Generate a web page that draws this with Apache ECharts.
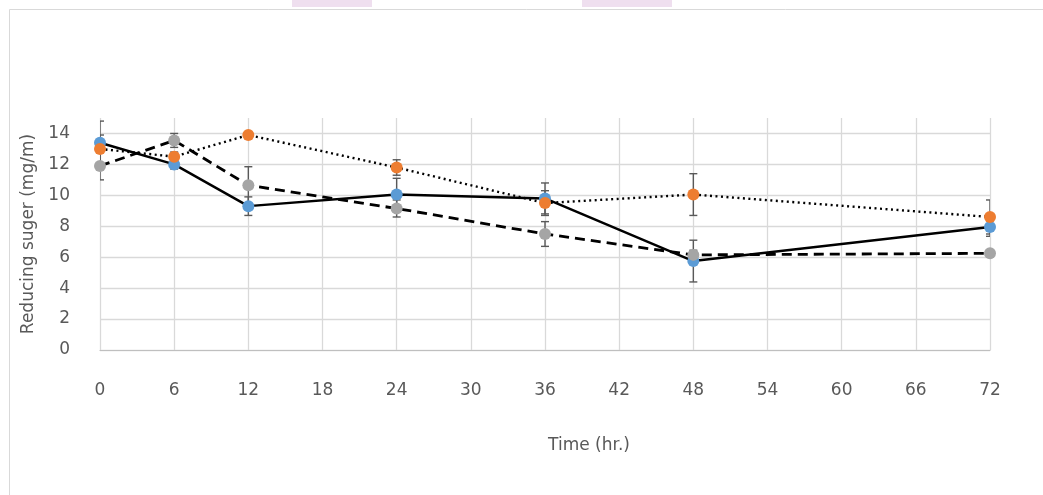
<!DOCTYPE html>
<html>
<head>
<meta charset="utf-8">
<script src="https://cdn.jsdelivr.net/npm/echarts@6/dist/echarts.min.js"></script>
<style>
  html, body { margin: 0; padding: 0; background: #fff; }
  #chart { width: 1043px; height: 495px; }
</style>
</head>
<body>
<div id="chart"></div>
<script>
// Sampling times (hr.)
const hours = [0, 6, 12, 24, 36, 48, 72];

// Reducing sugar means and their error bars, one pair per treatment
const sugarA = [13.4, 12.0, 9.3, 10.05, 9.8, 5.75, 7.95];
const sugarAErr = [1.4, 0.3, 0.6, 1.05, 1.0, 1.35, 0.6];
const sugarB = [13.0, 12.5, 13.9, 11.8, 9.5, 10.05, 8.6];
const sugarBErr = [0.9, 0.3, 0.1, 0.5, 0.8, 1.35, 1.1];
const sugarC = [11.9, 13.55, 10.65, 9.15, 7.5, 6.15, 6.25];
const sugarCErr = [0.9, 0.45, 1.2, 0.55, 0.8, 0.3, 0.2];

const FONT = '"DejaVu Sans", sans-serif';
const TEXT = '#595959';
const GRID = '#d9d9d9';

function pairs(vals) { return hours.map((h, i) => [h, vals[i]]); }
function triples(vals, errs) { return hours.map((h, i) => [h, vals[i], errs[i]]); }

// Vertical error bar with caps at each point
function errorBar(params, api) {
  const x = api.value(0), y = api.value(1), e = api.value(2);
  const top = api.coord([x, y + e]);
  const bot = api.coord([x, y - e]);
  const half = 4;
  const style = { stroke: '#595959', lineWidth: 1.4 };
  return {
    type: 'group',
    children: [
      { type: 'line', shape: { x1: top[0], y1: top[1], x2: bot[0], y2: bot[1] }, style },
      { type: 'line', shape: { x1: top[0] - half, y1: top[1], x2: top[0] + half, y2: top[1] }, style },
      { type: 'line', shape: { x1: bot[0] - half, y1: bot[1], x2: bot[0] + half, y2: bot[1] }, style }
    ]
  };
}

function errSeries(vals, errs) {
  return {
    type: 'custom', renderItem: errorBar, clip: true, z: 2, silent: true,
    encode: { x: 0, y: [1] },
    data: triples(vals, errs)
  };
}

function lineSeries(name, vals, dotColor, lineType, width) {
  return {
    name, type: 'line', z: 3,
    data: pairs(vals),
    symbol: 'circle', symbolSize: 12,
    itemStyle: { color: dotColor },
    lineStyle: { color: '#000', width, type: lineType },
    emphasis: { disabled: true }
  };
}

const chart = echarts.init(document.getElementById('chart'), null, { renderer: 'canvas' });

chart.setOption({
  backgroundColor: '#fff',
  animation: false,
  graphic: [
    { type: 'rect', shape: { x: 9.5, y: 9.5, width: 1045, height: 495 }, style: { fill: 'none', stroke: GRID, lineWidth: 1 }, z: -1 },
    { type: 'rect', shape: { x: 292, y: 0, width: 80, height: 7 }, style: { fill: '#efdfef' }, z: -1 },
    { type: 'rect', shape: { x: 582, y: 0, width: 90, height: 7 }, style: { fill: '#efdfef' }, z: -1 }
  ],
  grid: { left: 100, right: 53, top: 118, bottom: 145 },
  xAxis: {
    type: 'value', min: 0, max: 72, interval: 6,
    name: 'Time (hr.)', nameLocation: 'middle', nameGap: 87,
    nameTextStyle: { fontFamily: FONT, fontSize: 17, color: TEXT, padding: [0, 0, 0, 88] },
    axisLine: { show: true, onZero: false, lineStyle: { color: '#bfbfbf', width: 1.2 } },
    axisTick: { show: false },
    axisLabel: { margin: 32, fontFamily: FONT, fontSize: 17, color: TEXT },
    splitLine: { show: true, lineStyle: { color: GRID, width: 1.3 } }
  },
  yAxis: {
    type: 'value', min: 0, max: 15, interval: 2,
    name: 'Reducing suger (mg/m)', nameLocation: 'middle', nameGap: 60,
    nameTextStyle: { fontFamily: FONT, fontSize: 17, color: TEXT },
    axisLine: { show: false },
    axisTick: { show: false },
    axisLabel: { margin: 30, fontFamily: FONT, fontSize: 17, color: TEXT, showMaxLabel: false },
    splitLine: { show: true, showMaxLine: false, lineStyle: { color: GRID, width: 1.3 } }
  },
  series: [
    errSeries(sugarA, sugarAErr),
    errSeries(sugarB, sugarBErr),
    errSeries(sugarC, sugarCErr),
    lineSeries('Treatment 1', sugarA, '#5b9bd5', 'solid', 2.4),
    lineSeries('Treatment 2', sugarB, '#ed7d31', [2, 3.5], 2.4),
    lineSeries('Treatment 3', sugarC, '#a5a5a5', [10, 6], 2.8)
  ]
});
</script>
</body>
</html>
